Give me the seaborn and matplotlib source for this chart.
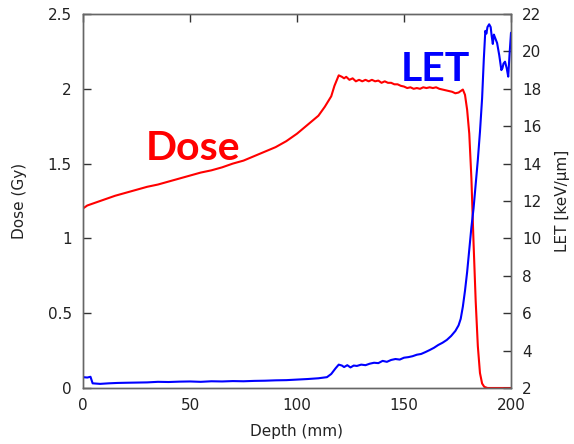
import numpy as np
import pandas as pd
import matplotlib
matplotlib.use("Agg")
import matplotlib.pyplot as plt
from matplotlib.ticker import FormatStrFormatter
import seaborn as sns

# ---- data ----
dose_depth = [0, 2, 5, 10, 15, 20, 25, 30, 35, 40, 45, 50, 55, 60, 65, 70, 75, 80, 85, 90,
              95, 100, 105, 110, 113, 116, 117.5, 119.5, 121, 122, 123, 124.5, 126, 127.5,
              129, 130.5, 132, 133.5, 135, 136.5, 138, 139.5, 141, 142.5, 144, 145.5, 147,
              148.5, 150, 151.5, 153, 154.5, 156, 157.5, 159, 160.5, 162, 163.5, 165, 166.5,
              168, 169.5, 171, 172.5, 174, 175.5, 177.5, 178.5, 179.5, 180.5, 181.5, 182.5,
              183.5, 184.5, 185.5, 186.5, 187.5, 189, 200]
dose_gy = [1.20, 1.22, 1.235, 1.26, 1.285, 1.305, 1.325, 1.345, 1.36, 1.38, 1.40, 1.42, 1.44,
           1.455, 1.475, 1.50, 1.52, 1.55, 1.58, 1.61, 1.65, 1.70, 1.76, 1.82, 1.88, 1.95, 2.02,
           2.09, 2.08, 2.07, 2.08, 2.06, 2.07, 2.05, 2.06, 2.05, 2.06, 2.05, 2.06, 2.05, 2.055,
           2.04, 2.05, 2.04, 2.04, 2.03, 2.03, 2.02, 2.015, 2.005, 2.01, 2.0, 2.005, 2.0, 2.01,
           2.005, 2.01, 2.005, 2.01, 2.0, 1.995, 1.99, 1.985, 1.98, 1.97, 1.975, 1.995, 1.96,
           1.86, 1.70, 1.40, 0.97, 0.58, 0.28, 0.10, 0.03, 0.008, 0.0, 0.0]

let_depth = [0, 2, 3.5, 4.5, 8, 12, 16, 20, 25, 30, 35, 40, 45, 50, 55, 60, 65, 70, 75, 80,
             85, 90, 95, 100, 105, 110, 114, 116, 118, 119.5, 121, 122, 123.5, 125, 126.5, 128,
             130, 132, 134, 136, 138, 140, 142, 144, 146, 148, 150, 152, 154, 156, 158, 160,
             162, 164, 166, 168, 170, 172, 174, 175.5, 176.5, 177.5, 178.5, 179.5, 180.5,
             181.5, 182.5, 183.5, 184.5, 185.5, 186.5, 187.3, 188, 188.5, 189, 189.8, 190.5,
             191, 191.5, 192, 192.5, 193.5, 194.5, 195.5, 196, 196.5, 197.2, 198, 198.7,
             199.3, 200]
let_kev = [2.58, 2.56, 2.60, 2.25, 2.22, 2.25, 2.27, 2.28, 2.29, 2.30, 2.33, 2.32, 2.34, 2.35,
           2.33, 2.36, 2.35, 2.37, 2.36, 2.38, 2.39, 2.41, 2.42, 2.45, 2.48, 2.52, 2.58, 2.75,
           3.05, 3.25, 3.20, 3.12, 3.22, 3.10, 3.20, 3.18, 3.25, 3.22, 3.30, 3.35, 3.33, 3.45,
           3.40, 3.50, 3.55, 3.52, 3.62, 3.65, 3.70, 3.78, 3.82, 3.92, 4.03, 4.15, 4.30, 4.42,
           4.57, 4.78, 5.05, 5.35, 5.70, 6.35, 7.2, 8.2, 9.4, 10.6, 11.6, 12.9, 14.2, 15.7,
           17.5, 19.6, 21.1, 20.95, 21.3, 21.45, 21.3, 20.8, 20.4, 20.9, 20.75, 20.45, 19.8,
           19.0, 19.1, 19.35, 19.45, 19.1, 18.65, 19.8, 21.0]

x_ticks = [0, 50, 100, 150, 200]
dose_ticks = [0, 0.5, 1, 1.5, 2, 2.5]
let_ticks = [2, 4, 6, 8, 10, 12, 14, 16, 18, 20, 22]

dose_df = pd.DataFrame({"Depth": dose_depth, "Dose": dose_gy})
let_df = pd.DataFrame({"Depth": let_depth, "LET": let_kev})

sns.set_style("white")
plt.rcParams["font.family"] = ["DejaVu Sans"]

fig = plt.figure(figsize=(5.74, 4.44), dpi=100)
ax = fig.add_axes([83 / 574, 56 / 444, 428 / 574, 374 / 444])
ax2 = ax.twinx()

sns.lineplot(data=dose_df, x="Depth", y="Dose", ax=ax, color="#ff0000", lw=1.5)
sns.lineplot(data=let_df, x="Depth", y="LET", ax=ax2, color="#0000ff", lw=1.5)

ax.set_xlim(0, 200)
ax.set_ylim(0, 2.5)
ax2.set_ylim(2, 22)
ax.set_xticks(x_ticks)
ax.set_yticks(dose_ticks)
ax2.set_yticks(let_ticks)
ax.yaxis.set_major_formatter(FormatStrFormatter("%g"))
ax2.yaxis.set_major_formatter(FormatStrFormatter("%g"))

tc = "#222222"
ax.tick_params(axis="x", direction="in", length=6, width=1, top=True, color="#333333",
               labelsize=11, labelcolor=tc, pad=7)
ax.tick_params(axis="y", direction="in", length=6, width=1, right=False, color="#333333",
               labelsize=11, labelcolor=tc, pad=8)
ax2.tick_params(axis="y", direction="in", length=6, width=1, color="#333333",
                labelsize=11, labelcolor=tc, pad=8)

for a in (ax, ax2):
    for s in a.spines.values():
        s.set_visible(True)
        s.set_color("#666666")
        s.set_linewidth(1)

ax.set_xlabel("Depth (mm)", fontsize=11, color=tc, labelpad=8)
ax.set_ylabel("Dose (Gy)", fontsize=11, color=tc, labelpad=15)
ax2.set_ylabel("LET [keV/µm]", fontsize=11, color=tc, labelpad=10)

ax.text(51.6, 1.525, "Dose", color="#ff0000", fontsize=29.5, fontweight="bold",
        family="Lato", ha="center", va="baseline")
ax.text(164.6, 2.05, "LET", color="#0000ff", fontsize=29.5, fontweight="bold",
        family="Lato", ha="center", va="baseline")

fig.savefig("out.png", dpi=100)
